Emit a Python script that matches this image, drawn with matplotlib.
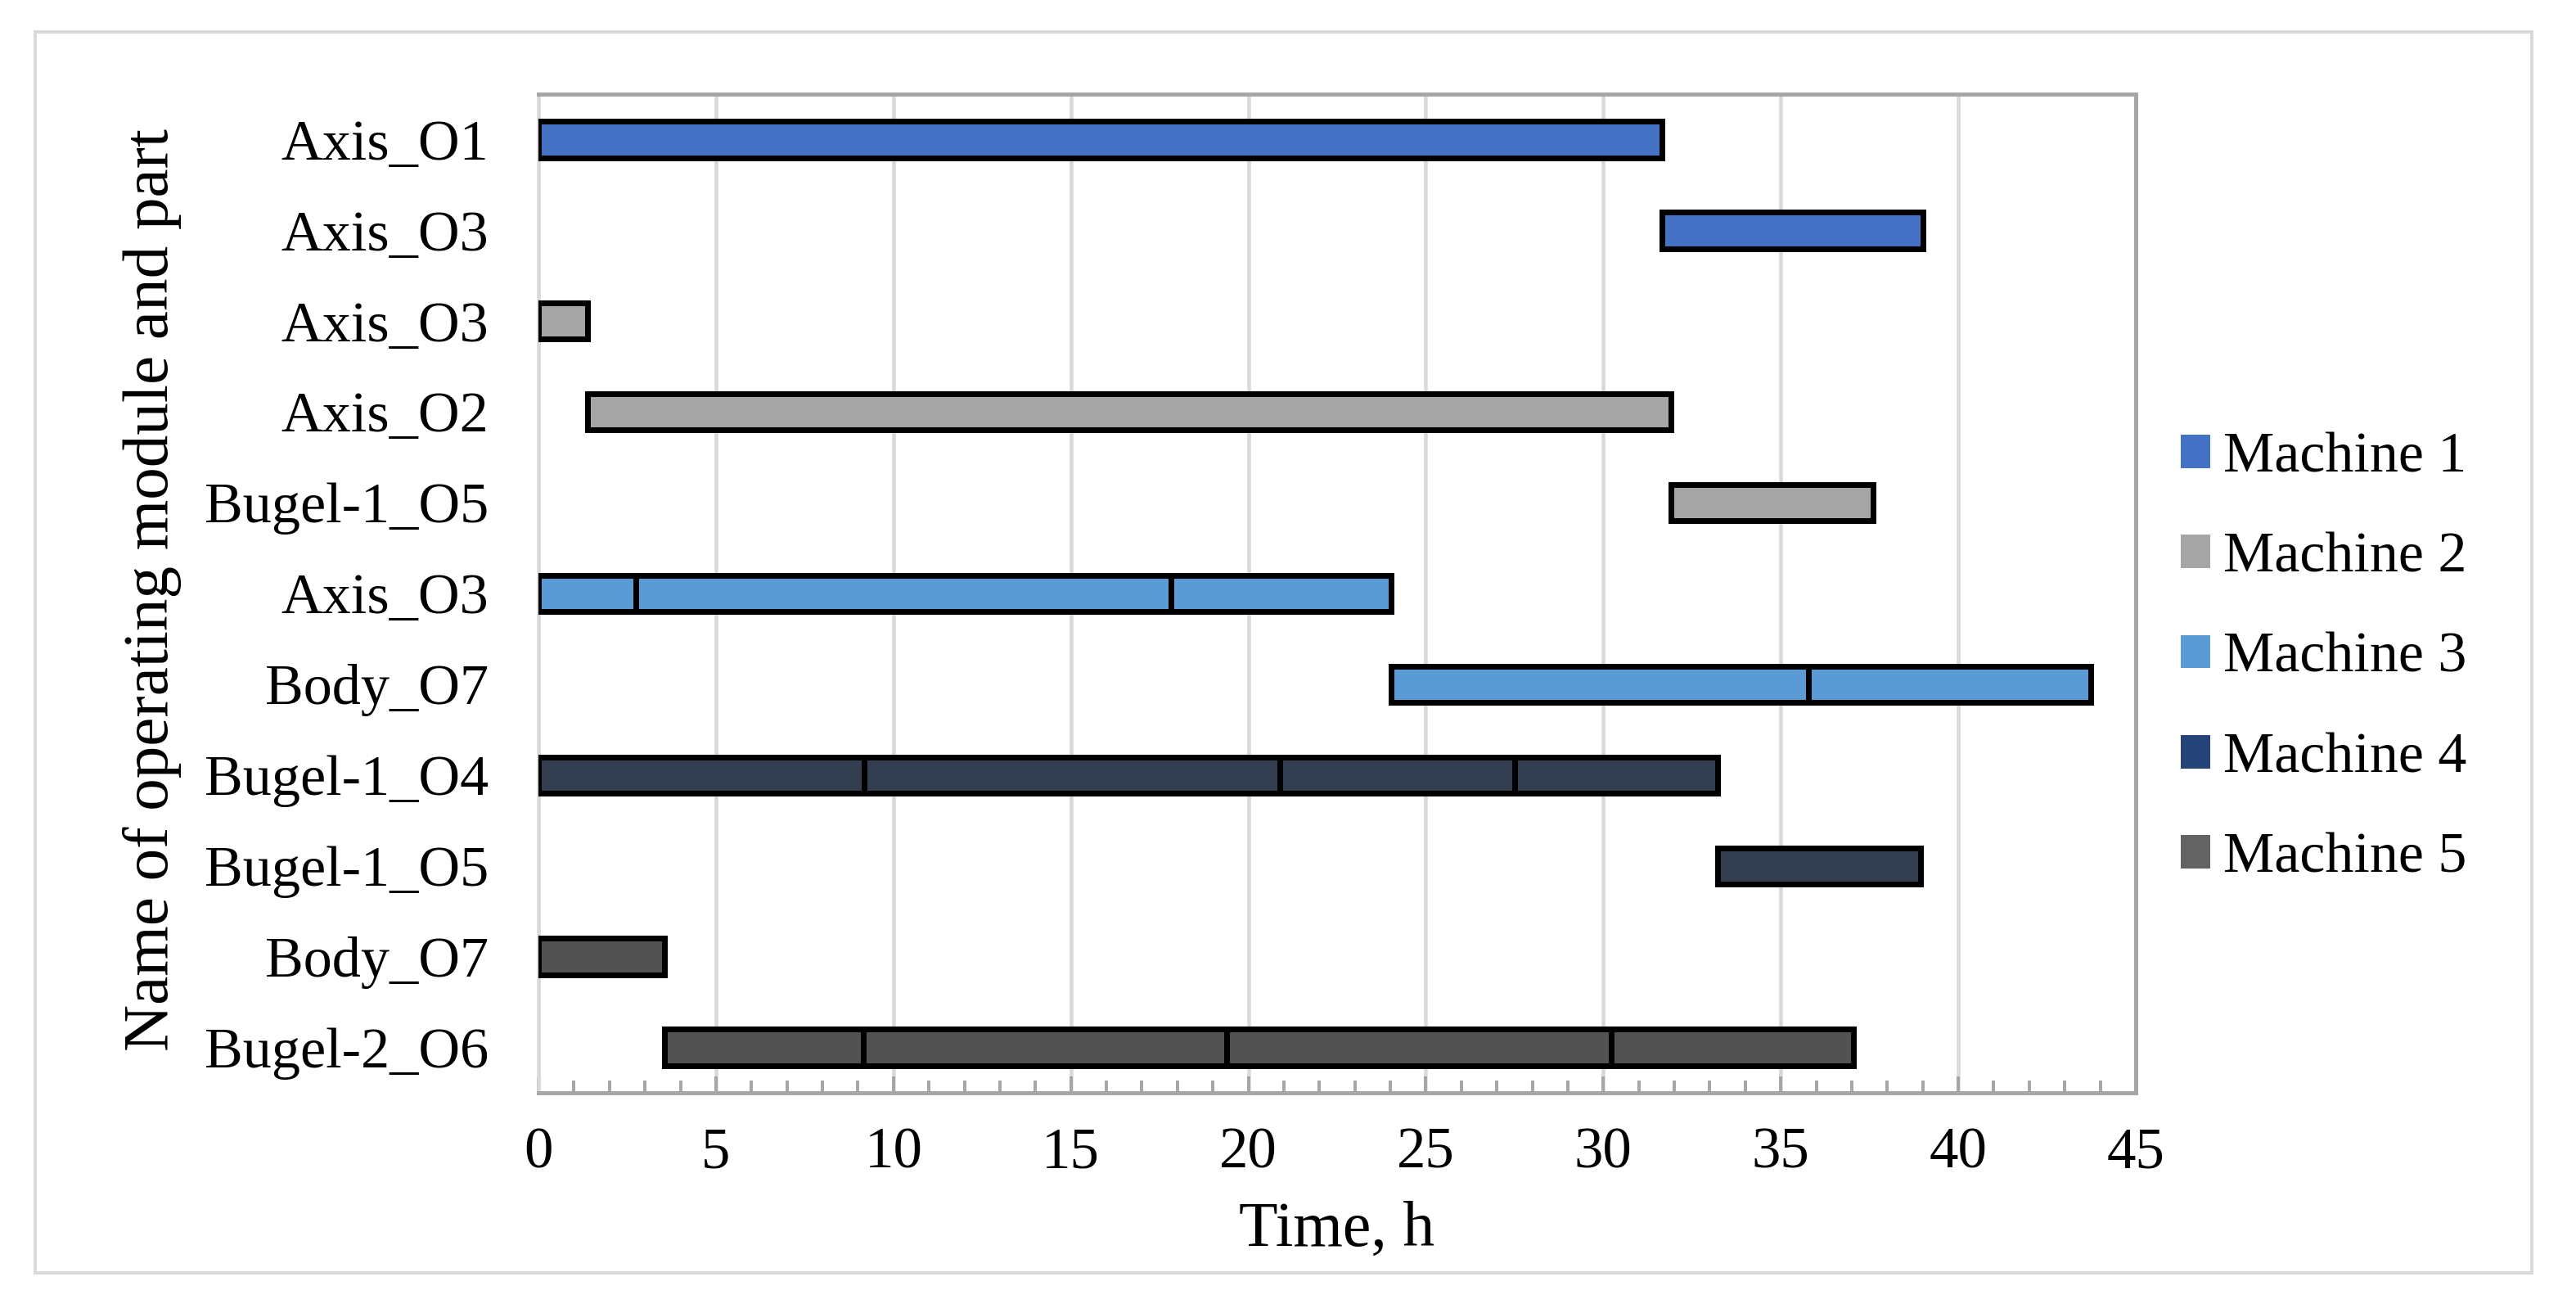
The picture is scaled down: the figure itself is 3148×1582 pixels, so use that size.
import matplotlib
matplotlib.use("Agg")
import matplotlib.pyplot as plt
from matplotlib.patches import Patch, Rectangle

# ---------------- data ----------------
categories = ["Axis_O1", "Axis_O3", "Axis_O3", "Axis_O2", "Bugel-1_O5",
              "Axis_O3", "Body_O7", "Bugel-1_O4", "Bugel-1_O5", "Body_O7",
              "Bugel-2_O6"]
row_machine = [1, 1, 2, 2, 2, 3, 3, 4, 4, 5, 5]
# boundaries of the consecutive segments of each row (hours)
row_bounds = [
    [0, 31.65],
    [31.65, 39.0],
    [0, 1.38],
    [1.38, 31.9],
    [31.9, 37.6],
    [0, 2.74, 17.82, 24.02],
    [24.02, 35.78, 43.74],
    [0, 9.18, 20.89, 27.5, 33.22],
    [33.22, 38.93],
    [0, 3.55],
    [3.55, 9.16, 19.39, 30.22, 37.05],
]
machines = ["Machine 1", "Machine 2", "Machine 3", "Machine 4", "Machine 5"]
bar_colors = {1: "#4472C4", 2: "#A5A5A5", 3: "#5B9BD5", 4: "#333F50", 5: "#525252"}
legend_colors = ["#4472C4", "#A5A5A5", "#5B9BD5", "#264478", "#636363"]
x_ticks = [0, 5, 10, 15, 20, 25, 30, 35, 40, 45]

# ---------------- figure ----------------
plt.rcParams["font.family"] = ["Liberation Serif", "DejaVu Serif"]
DPI = 200
W, H = 3148, 1582
fig = plt.figure(figsize=(W / DPI, H / DPI), dpi=DPI)

L, R, T, B = 658, 2610, 115, 1335
ax = fig.add_axes([L / W, 1 - B / H, (R - L) / W, (B - T) / H])

px = 72.0 / DPI  # points per pixel
bar_h = 0.40
for i, (bounds, m) in enumerate(zip(row_bounds, row_machine)):
    lefts = bounds[:-1]
    widths = [b - a for a, b in zip(bounds[:-1], bounds[1:])]
    ax.barh([i] * len(widths), widths, left=lefts, height=bar_h,
            color=bar_colors[m], edgecolor="black", linewidth=7 * px, zorder=3)

ax.set_xlim(0, 45)
ax.set_ylim(len(categories) - 0.5, -0.5)
ax.set_yticks(range(len(categories)))
ax.set_yticklabels(categories, fontsize=25.3)
ax.set_xticks(x_ticks)
ax.set_xticklabels([str(t) for t in x_ticks], fontsize=25.5)
ax.set_xticks(range(0, 46), minor=True)

ax.tick_params(axis="y", length=0, pad=22)
ax.tick_params(axis="x", which="major", direction="in", length=20 * px,
               width=4 * px, color="#A6A6A6", pad=15)
ax.tick_params(axis="x", which="minor", direction="in", length=15 * px,
               width=4 * px, color="#A6A6A6")

ax.grid(axis="x", which="major", color="#D9D9D9", linewidth=4.5 * px, zorder=0)
ax.set_axisbelow(True)

for s in ["top", "right", "bottom"]:
    ax.spines[s].set_color("#A6A6A6")
    ax.spines[s].set_linewidth(5 * px)
ax.spines["left"].set_color("#D9D9D9")
ax.spines["left"].set_linewidth(4.5 * px)

ax.set_xlabel("Time, h", fontsize=28, va="center")
ax.xaxis.set_label_coords(0.5, -0.1377)
ax.set_ylabel("Name of operating module and part", fontsize=28.5, va="center")
ax.yaxis.set_label_coords((186 - L) / (R - L), 0.504)

handles = [Patch(facecolor=c, edgecolor="none", label=lab)
           for c, lab in zip(legend_colors, machines)]
fig.legend(handles=handles, loc="center left",
           bbox_to_anchor=(2665 / W, 1 - 804 / H), frameon=False,
           fontsize=25.2, handlelength=0.52, handleheight=0.52,
           handletextpad=0.22, labelspacing=0.84, borderpad=0,
           borderaxespad=0)

# outer chart border
fig.patches.append(Rectangle((43 / W, 1 - 1555 / H), (3094 - 43) / W,
                             (1555 - 39) / H, transform=fig.transFigure,
                             fill=False, edgecolor="#D9D9D9",
                             linewidth=4 * px, zorder=0))

fig.savefig("out.png", dpi=DPI, facecolor="white")
